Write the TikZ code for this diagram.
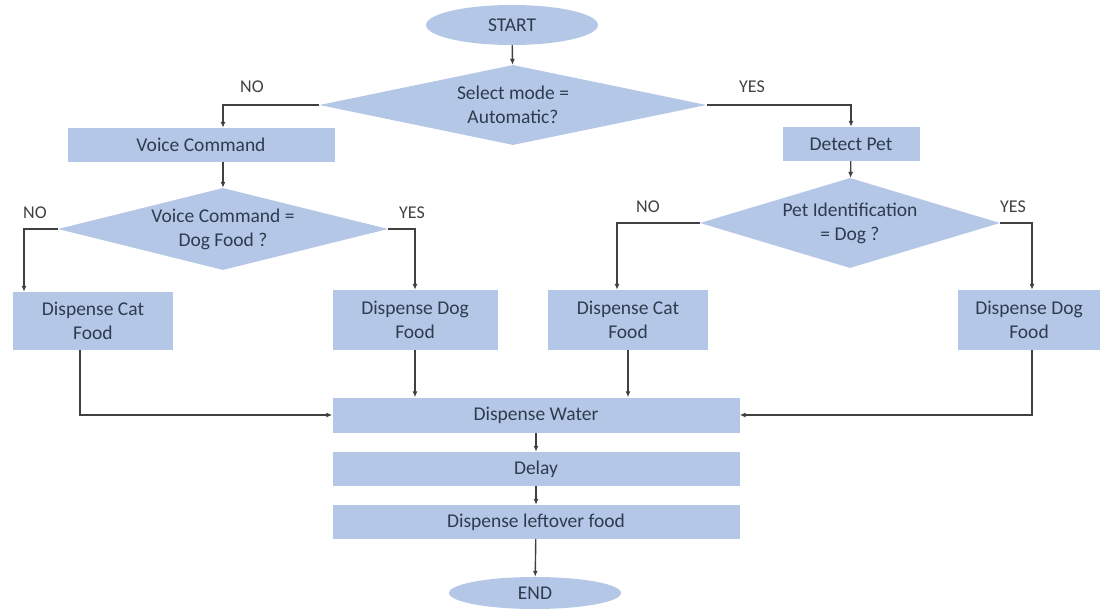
\documentclass[tikz,border=0pt]{standalone}
\usepackage{fontspec}
\setmainfont{Carlito}
\usetikzlibrary{shapes.geometric,arrows.meta}
\definecolor{boxblue}{HTML}{B4C7E7}
\definecolor{boxtext}{HTML}{2F3C4E}
\definecolor{linegray}{HTML}{404040}
\tikzstyle{every picture}=[x=1pt,y=-1pt,>={Latex[length=6pt,width=5pt]}]
\tikzstyle{every node}=[font=\fontsize{19.5}{24}\selectfont]
\tikzstyle{proc}=[rectangle, fill=boxblue, text=boxtext, align=center, inner sep=0pt]
\tikzstyle{term}=[ellipse, fill=boxblue, text=boxtext, inner sep=0pt]
\tikzstyle{decide}=[diamond, fill=boxblue, text=boxtext, align=center, inner sep=-4pt]
\tikzstyle{answer}=[text=linegray, font=\fontsize{18}{22}\selectfont]
\tikzstyle{flow}=[->, draw=linegray, line width=1.4pt]

\begin{document}
\begin{tikzpicture}
\useasboundingbox (0,0) rectangle (1108,609);
% top of the chart
 \node[term, minimum width=172, minimum height=40] (start) at (512,25) {START};
 \node[decide, shape aspect=4.84, minimum width=387, minimum height=80] (mode) at (513,105) {Select mode =\\Automatic?};
 \node[answer] (no1) at (252,87) {NO};
 \node[answer] (yes1) at (752,87) {YES};
% voice branch
 \node[proc, minimum width=267, minimum height=34] (voice) at (201,145) {Voice Command};
 \node[decide, shape aspect=4.0, minimum width=330, minimum height=82] (vdog) at (223,229) {Voice Command =\\Dog Food ?};
 \node[answer] (no2) at (35,213) {NO};
 \node[answer] (yes2) at (412,213) {YES};
 \node[proc, minimum width=160, minimum height=58] (cat1) at (93,321) {Dispense Cat\\Food};
 \node[proc, minimum width=165, minimum height=60] (dog1) at (415,320) {Dispense Dog\\Food};
% automatic branch
 \node[proc, minimum width=137, minimum height=34] (pet) at (851,144) {Detect Pet};
 \node[decide, shape aspect=3.33, minimum width=300, minimum height=90] (pdog) at (850,223) {Pet Identification\\= Dog ?};
 \node[answer] (no3) at (648,207) {NO};
 \node[answer] (yes3) at (1013,207) {YES};
 \node[proc, minimum width=160, minimum height=60] (cat2) at (628,320) {Dispense Cat\\Food};
 \node[proc, minimum width=142, minimum height=60] (dog2) at (1029,320) {Dispense Dog\\Food};
% common end
 \node[proc, minimum width=407, minimum height=35] (water) at (536,415) {Dispense Water};
 \node[proc, minimum width=407, minimum height=34] (delay) at (536,469) {Delay};
 \node[proc, minimum width=407, minimum height=34] (left) at (536,522) {Dispense leftover food};
 \node[term, minimum width=172, minimum height=32] (end) at (535,593) {END};

 \draw[flow] (start) -- (mode);
 \draw[flow] (mode.west) -| (voice.north -| vdog.north);
 \draw[flow] (mode.east) -| (pet.north);
 \draw[flow] (voice.south -| vdog.north) -- (vdog.north);
 \draw[flow] (vdog.west) -| ([xshift=-69]cat1.north);
 \draw[flow] (vdog.east) -| (dog1.north);
 \draw[flow] (pet) -- (pdog);
 \draw[flow] (pdog.west) -| ([xshift=-11]cat2.north);
 \draw[flow] (pdog.east) -| ([xshift=3]dog2.north);
 \draw[flow] ([xshift=-13]cat1.south) |- (water.west);
 \draw[flow] (dog1.south) -- (dog1.south |- water.north);
 \draw[flow] (cat2.south) -- (cat2.south |- water.north);
 \draw[flow] ([xshift=3]dog2.south) |- (water.east);
 \draw[flow] (water) -- (delay);
 \draw[flow] (delay) -- (left);
 \draw[flow] (left) -- (end);
\end{tikzpicture}
\end{document}
